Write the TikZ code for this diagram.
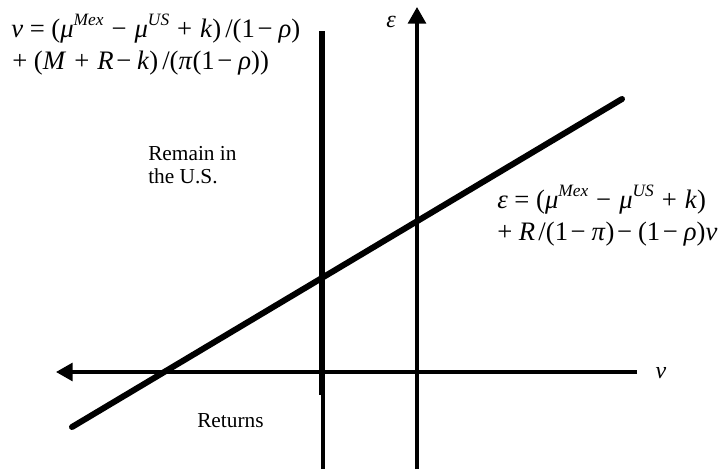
\documentclass[tikz,border=0pt]{standalone}
\usepackage{fontspec}
\setmainfont{Liberation Serif}
\usetikzlibrary{arrows.meta}
\newcommand\sups[1]{\raisebox{8.5pt}{\fontsize{13}{13}\selectfont\itshape #1}}
\newcommand\iv[1]{\textit{#1}}
\newcommand\bop[1]{\hspace{0.3em}#1\hspace{0.3em}}
\newcommand\eop[1]{\hspace{0.25em}#1\hspace{0.25em}}
\newcommand\sop[1]{\hspace{0.1em}#1\hspace{0.22em}}
\begin{document}
\begin{tikzpicture}[x=0.75pt,y=-0.75pt,
  axisline/.style={line width=2.3pt},
  thickline/.style={line width=3.8pt},
  diagline/.style={line width=4.5pt,line cap=round},
  tip/.style={-{Triangle[length=12.5pt,width=13.5pt]}},
  eqn/.style={font=\fontsize{20}{20}\selectfont,inner sep=0pt,anchor=base west},
  lbl/.style={font=\fontsize{16}{16}\selectfont,inner sep=0pt,anchor=base west}]
\useasboundingbox (0,0) rectangle (721,471);
% axes
\coordinate (hR) at (637,372);
\coordinate (hL) at (56,372);
\coordinate (vB) at (417,469);
\coordinate (vT) at (417,7);
\draw[axisline,tip] (hR) -- (hL);
\draw[axisline,tip] (vB) -- (vT);
% vertical threshold line
\coordinate (tT) at (322,31);
\coordinate (tM) at (322,395);
\coordinate (tB) at (323,469);
\draw[thickline] (tT) -- (tM);
\draw[axisline] (323,394) -- (tB);
% diagonal
\coordinate (dA) at (72,427);
\coordinate (dB) at (622,99);
\draw[diagline] (dA) -- (dB);
% labels
\node[font=\fontsize{18}{18}\selectfont\itshape,inner sep=0pt] (eps) at (391,22) {ε};
\node[font=\fontsize{18}{18}\selectfont\itshape,inner sep=0pt] (vlab) at (661,373) {v};
\node[eqn] (eq1a) at (11,37) {\iv{v}\eop{=}(\iv{μ}\sups{Mex}\bop{−}\iv{μ}\sups{US}\bop{+}\iv{k})\hspace{0.15em}/(1\sop{−}\iv{ρ})};
\node[eqn] (eq1b) at (12,69) {+\hspace{0.25em}(\iv{M}\bop{+}\iv{R}\sop{−}\iv{k})\hspace{0.15em}/(\iv{π}(1\sop{−}\iv{ρ}))};
\node[eqn] (eq2a) at (497,208) {\iv{ε}\eop{=}(\iv{μ}\sups{Mex}\bop{−}\iv{μ}\sups{US}\bop{+}\iv{k})};
\node[eqn] (eq2b) at (497,240) {+\hspace{0.25em}\iv{R}\hspace{0.12em}/(1\sop{−}\iv{π})\sop{−}(1\sop{−}\iv{ρ})\iv{v}};
\node[lbl] (remain1) at (148,160) {Remain in};
\node[lbl] (remain2) at (148,183) {the U.S.};
\node[lbl] (returns) at (197,427) {Returns};
\end{tikzpicture}
\end{document}
